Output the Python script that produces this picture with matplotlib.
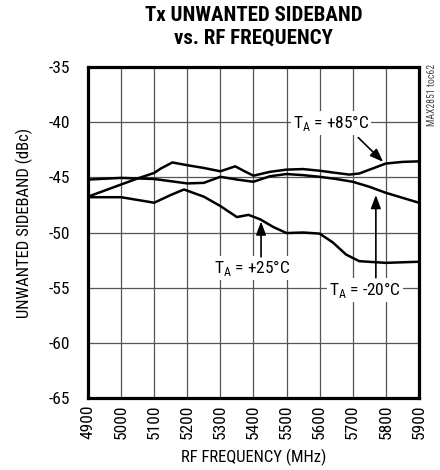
import numpy as np
import matplotlib
matplotlib.use('Agg')
import matplotlib.pyplot as plt

plt.rcParams['font.family'] = ['Roboto Condensed', 'Archivo Narrow', 'Liberation Sans', 'DejaVu Sans']
plt.rcParams['mathtext.fontset'] = 'custom'
plt.rcParams['mathtext.rm'] = 'Roboto Condensed'
plt.rcParams['axes.unicode_minus'] = False

# data
freq_85 = [4900, 4950, 5000, 5050, 5100, 5120, 5155, 5200, 5250, 5300, 5325, 5345, 5370,
           5400, 5450, 5500, 5550, 5600, 5650, 5690, 5720, 5760, 5800, 5850, 5900]
usb_85 = [-46.75, -46.2, -45.65, -45.1, -44.6, -44.2, -43.65, -43.9, -44.15, -44.45, -44.2, -44.0, -44.4,
          -44.85, -44.5, -44.3, -44.25, -44.4, -44.6, -44.75, -44.65, -44.2, -43.75, -43.6, -43.55]

freq_m20 = [4900, 5000, 5100, 5150, 5200, 5250, 5300, 5350, 5400, 5450, 5500, 5550,
            5600, 5650, 5700, 5750, 5800, 5850, 5900]
usb_m20 = [-45.2, -45.05, -45.15, -45.35, -45.55, -45.5, -44.95, -45.2, -45.4, -44.9, -44.7, -44.8,
           -44.95, -45.15, -45.4, -45.85, -46.4, -46.85, -47.3]

freq_25 = [4900, 5000, 5100, 5150, 5190, 5250, 5300, 5350, 5385, 5420, 5460, 5500, 5550,
           5600, 5640, 5680, 5720, 5800, 5900]
usb_25 = [-46.8, -46.8, -47.3, -46.6, -46.1, -46.75, -47.6, -48.6, -48.4, -48.8, -49.5, -50.05, -50.0,
          -50.1, -50.9, -52.0, -52.6, -52.75, -52.65]

xticks = np.arange(4900, 5901, 100)
yticks = np.arange(-65, -34, 5)

#%%
fig = plt.figure(figsize=(4.4, 4.7), dpi=100)
ax = fig.add_axes([0.2, 0.1532, 0.752, 0.7042])

ax.plot(freq_85, usb_85, color='black', lw=1.8, zorder=3)
ax.plot(freq_m20, usb_m20, color='black', lw=1.8, zorder=3)
ax.plot(freq_25, usb_25, color='black', lw=1.8, zorder=3)

ax.set_xlim(4900, 5900)
ax.set_ylim(-65, -35)
ax.set_xticks(xticks)
ax.set_yticks(yticks)
ax.set_xticklabels([str(v) for v in xticks], rotation=90, fontsize=12.5)
ax.set_yticklabels([str(v) for v in yticks], fontsize=12.5)
ax.tick_params(length=0)
ax.tick_params(axis='y', pad=13)
ax.tick_params(axis='x', pad=5)
ax.grid(True, color='#555555', lw=0.9)
ax.set_axisbelow(True)
for s in ax.spines.values():
    s.set_linewidth(2.3)

ax.set_xlabel('RF FREQUENCY (MHz)', fontsize=12)
ax.xaxis.set_label_coords(0.5, -0.152)
ax.set_ylabel('UNWANTED SIDEBAND (dBc)', fontsize=12)
ax.yaxis.set_label_coords(-0.165, 0.53)
ax.set_title('Tx UNWANTED SIDEBAND\nvs. RF FREQUENCY', fontsize=15, fontweight='bold',
             linespacing=1.2, pad=17)

arrow = dict(arrowstyle='-|>,head_length=0.4,head_width=0.15', color='black', lw=1.2,
             mutation_scale=20, shrinkA=0, shrinkB=0)
box = dict(facecolor='white', edgecolor='none', pad=1.5)

ax.text(5634, -40.1, r'T$_{\mathrm{A}}$ = +85°C', fontsize=12.5, ha='center', va='center', bbox=box, zorder=4)
ax.annotate('', xy=(5792, -43.6), xytext=(5717, -41.4), arrowprops=arrow, zorder=4)

ax.text(5395, -53.2, r'T$_{\mathrm{A}}$ = +25°C', fontsize=12.5, ha='center', va='center', bbox=box, zorder=4)
ax.annotate('', xy=(5423, -49.0), xytext=(5423, -52.2), arrowprops=arrow, zorder=4)

ax.text(5737, -55.2, r'T$_{\mathrm{A}}$ = -20°C', fontsize=12.5, ha='center', va='center', bbox=box, zorder=4)
ax.annotate('', xy=(5770, -46.6), xytext=(5770, -54.1), arrowprops=arrow, zorder=4)

fig.text(0.982, 0.865, 'MAX2851 toc62', rotation=90, fontsize=7, color='#444444', ha='center', va='top')

fig.savefig('out.png', dpi=100)
